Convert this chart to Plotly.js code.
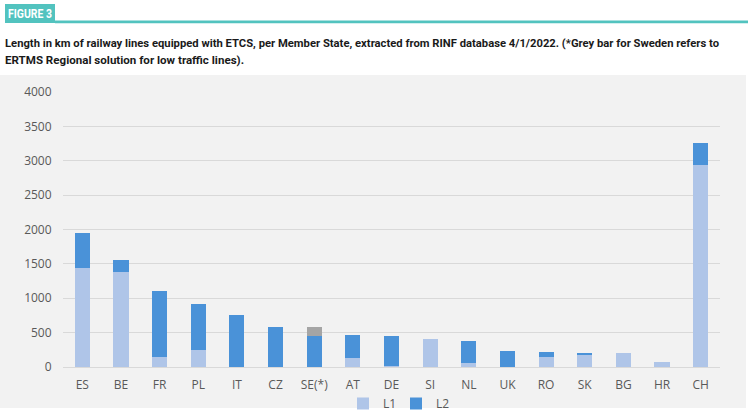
<!DOCTYPE html>
<html>
<head>
<meta charset="utf-8">
<script src="https://cdn.plot.ly/plotly-3.0.1.min.js"></script>
<style>
html,body{margin:0;padding:0;background:#ffffff;}
#chart{width:750px;height:411px;}
</style>
</head>
<body>
<div id="chart"></div>
<script>
// ---- data ----
var countries = ["ES","BE","FR","PL","IT","CZ","SE(*)","AT","DE","SI","NL","UK","RO","SK","BG","HR","CH"];
var l1Values  = [1440,1380,145,245,0,0,0,130,20,410,60,0,140,180,200,75,2940];
var l2Values  = [515,175,960,675,750,585,450,335,425,0,325,235,75,30,0,0,325];
var regionalValues = [0,0,0,0,0,0,125,0,0,0,0,0,0,0,0,0,0];
var yTicks = [0,500,1000,1500,2000,2500,3000,3500,4000];

var W = 750, H = 411;
var M = {l:63, r:30, t:92, b:44, autoexpand:false};
var PW = W - M.l - M.r, PH = H - M.t - M.b;
function px(x){ return (x - M.l) / PW; }
function py(y){ return (H - M.b - y) / PH; }

var headFont = "Roboto, Liberation Sans, sans-serif";
var tickFont = {family:"Open Sans, Noto Sans, sans-serif", size:12, color:"#595959"};

var traces = [
  {type:"bar", name:"L1", x:countries, y:l1Values, marker:{color:"#afc5e8"}, hoverinfo:"x+y+name"},
  {type:"bar", name:"L2", x:countries, y:l2Values, marker:{color:"#4a92d8"}, hoverinfo:"x+y+name"},
  {type:"bar", name:"ERTMS Regional", x:countries, y:regionalValues, marker:{color:"#a5a5a5"}, showlegend:false, hoverinfo:"x+y+name"}
];

var layout = {
  width:W, height:H,
  margin:M,
  paper_bgcolor:"#ffffff",
  plot_bgcolor:"rgba(0,0,0,0)",
  barmode:"stack",
  bargap:0.61,
  showlegend:true,
  legend:{orientation:"h", x:px(396), xanchor:"center", y:py(389), yanchor:"top",
          font:tickFont, bgcolor:"rgba(0,0,0,0)", traceorder:"normal",
          itemwidth:30, entrywidth:8, entrywidthmode:"pixels"},
  xaxis:{type:"category", tickfont:tickFont, showgrid:false, zeroline:false, showline:false,
         ticks:"outside", ticklen:7, tickcolor:"rgba(0,0,0,0)", fixedrange:true, automargin:false},
  yaxis:{range:[0,4000], tickvals:yTicks, ticktext:yTicks.map(String), tickfont:tickFont,
         showgrid:true, gridcolor:"#d9d9d9", gridwidth:1, zeroline:true, zerolinecolor:"#d9d9d9",
         showline:false, ticks:"outside", ticklen:8, tickcolor:"rgba(0,0,0,0)", fixedrange:true, automargin:false},
  shapes:[
    {type:"rect", xref:"paper", yref:"paper", layer:"below",
     x0:px(0), x1:px(746), y0:py(408), y1:py(75), fillcolor:"#f2f2f2", line:{width:0}},
    {type:"rect", xref:"paper", yref:"paper", layer:"below",
     x0:px(5), x1:px(55), y0:py(23), y1:py(4), fillcolor:"#52c3bf", line:{width:0}},
    {type:"rect", xref:"paper", yref:"paper", layer:"below",
     x0:px(55), x1:px(748), y0:py(23.3), y1:py(20.5), fillcolor:"#52c3bf", line:{width:0}}
  ],
  annotations:[
    {xref:"paper", yref:"paper", x:px(6), y:py(14), xanchor:"left", yanchor:"middle", align:"left", showarrow:false,
     text:"<b>FIGURE 3</b>", font:{family:headFont, size:12, color:"#ffffff"}},
    {xref:"paper", yref:"paper", x:px(3), y:py(43), xanchor:"left", yanchor:"middle", align:"left", showarrow:false,
     text:"<b>Length in km of railway lines equipped with ETCS, per Member State, extracted from RINF database 4/1/2022. (*Grey bar for Sweden refers to</b>",
     font:{family:headFont, size:11.5, color:"#1a1a1a"}},
    {xref:"paper", yref:"paper", x:px(3), y:py(60), xanchor:"left", yanchor:"middle", align:"left", showarrow:false,
     text:"<b>ERTMS Regional solution for low traffic lines).</b>",
     font:{family:headFont, size:11.5, color:"#1a1a1a"}}
  ]
};

// target rendered widths (px) of the header texts, to mimic the condensed face
var headerWidths = [44, 714, 239];

Plotly.newPlot("chart", traces, layout, {displayModeBar:false, staticPlot:true}).then(function(gd){
  var texts = gd.querySelectorAll(".annotation-text");
  texts.forEach(function(t, i){
    if (headerWidths[i]) {
      t.setAttribute("textLength", headerWidths[i]);
      t.setAttribute("lengthAdjust", "spacingAndGlyphs");
    }
  });
});
</script>
</body>
</html>
